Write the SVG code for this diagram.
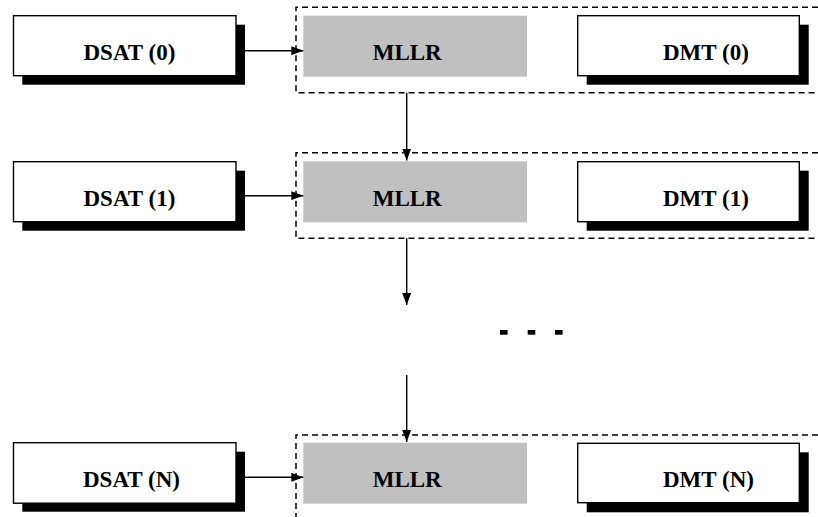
<svg xmlns="http://www.w3.org/2000/svg" width="818" height="517" viewBox="0 0 818 517">
  <defs>
    <marker id="arrow" markerWidth="12" markerHeight="9" refX="12" refY="4.5" orient="auto" markerUnits="userSpaceOnUse">
      <path d="M0,0 L12,4.5 L0,9 Z" fill="#000"/>
    </marker>
  </defs>
  <style>
    .box { fill: #fff; stroke: #000; stroke-width: 1.4; }
    .shadow { fill: #000; }
    .mllr { fill: #c0c0c0; }
    .group { fill: none; stroke: #000; stroke-width: 1.5; stroke-dasharray: 6 4; }
    .link { fill: none; stroke: #000; stroke-width: 1.4; marker-end: url(#arrow); }
    .label { font-family: "Liberation Serif", "Times New Roman", serif; font-weight: bold; font-size: 23px; fill: #000; }
  </style>

  <rect width="818" height="517" fill="#fff"/>

  <!-- dashed stage frames (open to the right) -->
  <g id="frames">
    <path class="group" d="M818,7.3 H296 V92.7 H818"/>
    <path class="group" d="M818,152.7 H296 V238.3 H818"/>
    <path class="group" d="M818,435 H296 V517"/>
  </g>

  <!-- stage 0 -->
  <g id="dsat0">
    <rect class="shadow" x="22.3" y="24.7" width="222.7" height="60"/>
    <rect class="box" x="13.5" y="15.7" width="222.5" height="60"/>
    <text class="label" x="83.5" y="60">DSAT (0)</text>
  </g>
  <g id="mllr0">
    <rect class="mllr" x="303.3" y="15.7" width="223.7" height="61"/>
    <text class="label" x="372.7" y="60">MLLR</text>
  </g>
  <g id="dmt0">
    <rect class="shadow" x="586.7" y="24.7" width="222" height="60"/>
    <rect class="box" x="577.7" y="15.7" width="221.6" height="60"/>
    <text class="label" x="663" y="60">DMT (0)</text>
  </g>

  <!-- stage 1 -->
  <g id="dsat1">
    <rect class="shadow" x="22.3" y="170.7" width="222.7" height="60"/>
    <rect class="box" x="13.5" y="161.7" width="222.5" height="60"/>
    <text class="label" x="83.5" y="206">DSAT (1)</text>
  </g>
  <g id="mllr1">
    <rect class="mllr" x="303.3" y="161.3" width="223.7" height="61"/>
    <text class="label" x="372.7" y="206">MLLR</text>
  </g>
  <g id="dmt1">
    <rect class="shadow" x="586.7" y="170.7" width="222" height="60"/>
    <rect class="box" x="577.7" y="161.7" width="221.6" height="60"/>
    <text class="label" x="663" y="206">DMT (1)</text>
  </g>

  <!-- ellipsis between stage 1 and stage N -->
  <g id="ellipsis">
    <rect x="500" y="330" width="7.6" height="4.7" fill="#000"/>
    <rect x="527.7" y="330" width="7.6" height="4.7" fill="#000"/>
    <rect x="555" y="330" width="7.6" height="4.7" fill="#000"/>
  </g>

  <!-- stage N -->
  <g id="dsatN">
    <rect class="shadow" x="22.3" y="451.7" width="222.7" height="60"/>
    <rect class="box" x="13.5" y="442.7" width="222.5" height="60.5"/>
    <text class="label" x="83" y="487">DSAT (N)</text>
  </g>
  <g id="mllrN">
    <rect class="mllr" x="303.3" y="442.7" width="223.7" height="61"/>
    <text class="label" x="372.7" y="487">MLLR</text>
  </g>
  <g id="dmtN">
    <rect class="shadow" x="586.7" y="452.3" width="222" height="60"/>
    <rect class="box" x="577.7" y="443.3" width="221.6" height="59.4"/>
    <text class="label" x="663" y="487">DMT (N)</text>
  </g>

  <!-- connectors -->
  <g id="connectors">
    <line class="link" x1="245" y1="50.7" x2="303.3" y2="50.7"/>
    <line class="link" x1="245" y1="195.7" x2="303.3" y2="195.7"/>
    <line class="link" x1="245" y1="477.3" x2="303.3" y2="477.3"/>
    <line class="link" x1="406.7" y1="92.7" x2="406.7" y2="160.5"/>
    <line class="link" x1="406.7" y1="238.3" x2="406.7" y2="305"/>
    <line class="link" x1="406.7" y1="375" x2="406.7" y2="442"/>
  </g>
</svg>
